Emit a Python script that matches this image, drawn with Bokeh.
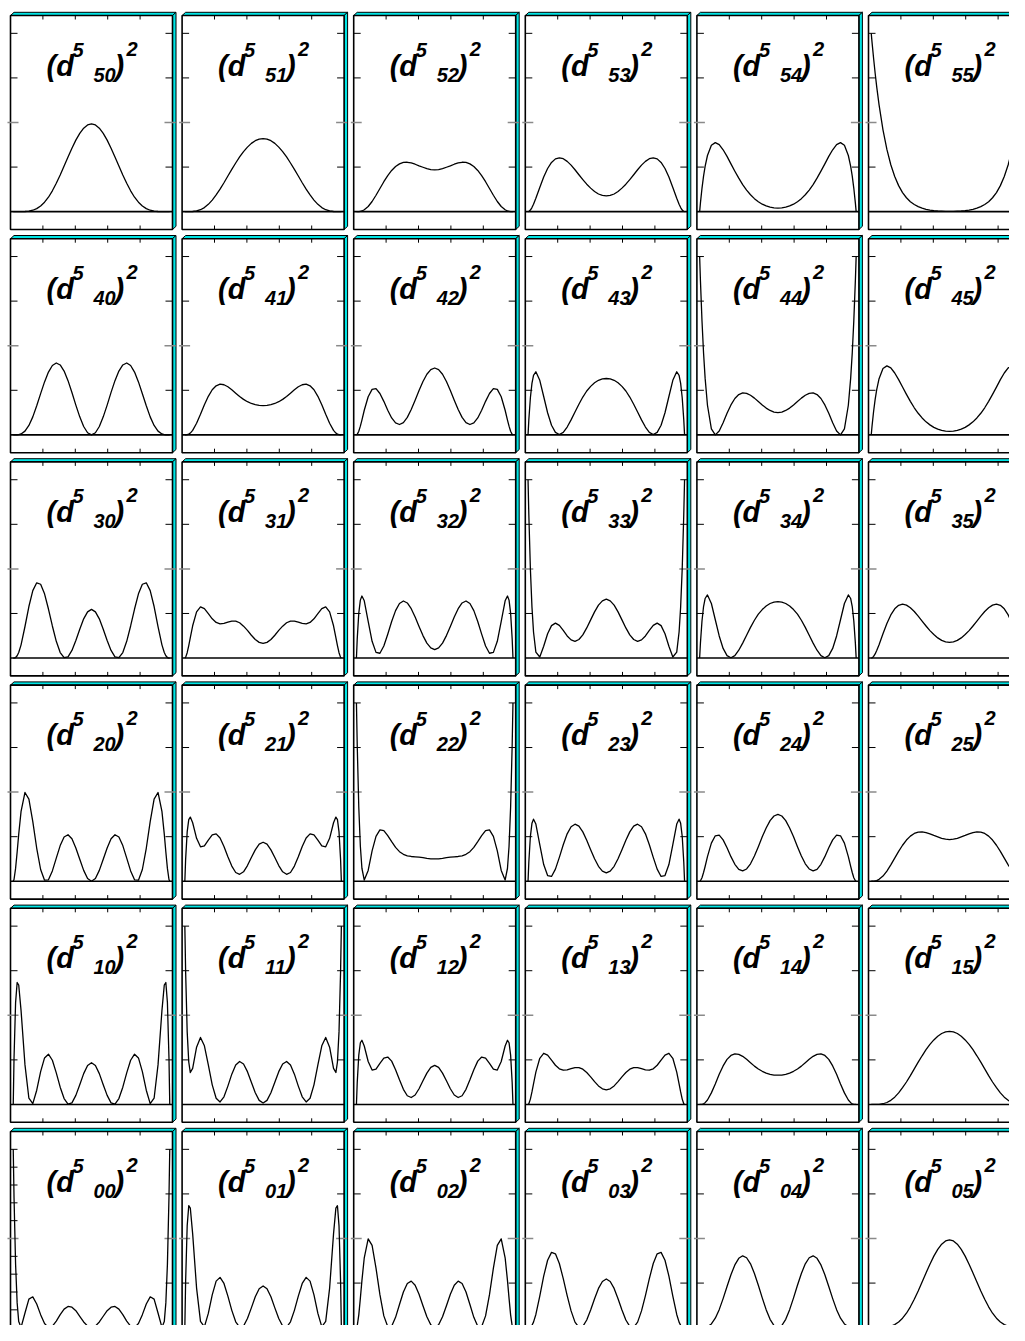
from bokeh.plotting import figure
from bokeh.layouts import gridplot
from bokeh.models import Range1d
from bokeh.embed import file_html
from bokeh.resources import INLINE
from bokeh.core.properties import value

# x = cos(beta), sample positions
X = [-1.0, -0.99, -0.97, -0.95, -0.93, -0.9, -0.85, -0.8, -0.75, -0.7, -0.65, -0.6,
     -0.55, -0.5, -0.45, -0.4, -0.35, -0.3, -0.25, -0.2, -0.15, -0.1, -0.05, 0.0,
     0.05, 0.1, 0.15, 0.2, 0.25, 0.3, 0.35, 0.4, 0.45, 0.5, 0.55, 0.6, 0.65, 0.7,
     0.75, 0.8, 0.85, 0.9, 0.93, 0.95, 0.97, 0.99, 1.0]

S50 = [0.0, 0.0, 0.0, 0.0, 0.0, 0.0, 0.001, 0.003, 0.008, 0.017, 0.032, 0.053, 0.081, 0.117, 0.159, 0.206, 0.256, 0.307, 0.356, 0.401, 0.439, 0.468, 0.486,
       0.492, 0.486, 0.468, 0.439, 0.401, 0.356, 0.307, 0.256, 0.206, 0.159, 0.117, 0.081, 0.053, 0.032, 0.017, 0.008, 0.003, 0.001, 0.0, 0.0, 0.0, 0.0, 0.0, 0.0]
S51 = [0.0, 0.0, 0.0, 0.0, 0.0, 0.001, 0.004, 0.011, 0.023, 0.041, 0.065, 0.094, 0.126, 0.162, 0.200, 0.237, 0.273, 0.307, 0.337, 0.362, 0.383, 0.398, 0.407,
       0.410, 0.407, 0.398, 0.383, 0.362, 0.337, 0.307, 0.273, 0.237, 0.200, 0.162, 0.126, 0.094, 0.065, 0.041, 0.023, 0.011, 0.004, 0.001, 0.0, 0.0, 0.0, 0.0, 0.0]
S52 = [0.0, 0.0, 0.0, 0.002, 0.004, 0.011, 0.029, 0.057, 0.092, 0.130, 0.168, 0.202, 0.231, 0.253, 0.268, 0.276, 0.277, 0.273, 0.266, 0.257, 0.249, 0.241, 0.236,
       0.234, 0.236, 0.241, 0.249, 0.257, 0.266, 0.273, 0.277, 0.276, 0.268, 0.253, 0.231, 0.202, 0.168, 0.130, 0.092, 0.057, 0.029, 0.011, 0.004, 0.002, 0.0, 0.0, 0.0]
S53 = [0.0, 0.001, 0.009, 0.023, 0.042, 0.075, 0.136, 0.194, 0.242, 0.276, 0.296, 0.302, 0.297, 0.282, 0.261, 0.235, 0.207, 0.180, 0.154, 0.132, 0.113, 0.099, 0.091,
       0.088, 0.091, 0.099, 0.113, 0.132, 0.154, 0.180, 0.207, 0.235, 0.261, 0.282, 0.297, 0.302, 0.296, 0.276, 0.242, 0.194, 0.136, 0.075, 0.042, 0.023, 0.009, 0.001, 0.0]
S54 = [0.0, 0.048, 0.131, 0.199, 0.254, 0.315, 0.372, 0.387, 0.376, 0.347, 0.310, 0.268, 0.227, 0.188, 0.152, 0.121, 0.095, 0.073, 0.056, 0.042, 0.032, 0.025, 0.021,
       0.020, 0.021, 0.025, 0.032, 0.042, 0.056, 0.073, 0.095, 0.121, 0.152, 0.188, 0.227, 0.268, 0.310, 0.347, 0.376, 0.387, 0.372, 0.315, 0.254, 0.199, 0.131, 0.048, 0.0]
S55 = [1.0, 0.951, 0.860, 0.776, 0.700, 0.599, 0.459, 0.349, 0.263, 0.197, 0.146, 0.107, 0.078, 0.056, 0.040, 0.028, 0.020, 0.013, 0.009, 0.006, 0.004, 0.003, 0.002,
       0.002, 0.002, 0.003, 0.004, 0.006, 0.009, 0.013, 0.020, 0.028, 0.040, 0.056, 0.078, 0.107, 0.146, 0.197, 0.263, 0.349, 0.459, 0.599, 0.700, 0.776, 0.860, 0.951, 1.0]
S40 = [0.0, 0.0, 0.0, 0.0, 0.001, 0.005, 0.021, 0.053, 0.101, 0.163, 0.231, 0.297, 0.352, 0.389, 0.403, 0.392, 0.358, 0.304, 0.238, 0.167, 0.101, 0.047, 0.012,
       0.0, 0.012, 0.047, 0.101, 0.167, 0.238, 0.304, 0.358, 0.392, 0.403, 0.389, 0.352, 0.297, 0.231, 0.163, 0.101, 0.053, 0.021, 0.005, 0.001, 0.0, 0.0, 0.0, 0.0]
S41 = [0.0, 0.0, 0.001, 0.004, 0.010, 0.025, 0.065, 0.115, 0.169, 0.216, 0.253, 0.275, 0.284, 0.281, 0.270, 0.253, 0.234, 0.215, 0.199, 0.186, 0.176, 0.169, 0.165,
       0.164, 0.165, 0.169, 0.176, 0.186, 0.199, 0.215, 0.234, 0.253, 0.270, 0.281, 0.284, 0.275, 0.253, 0.216, 0.169, 0.115, 0.065, 0.025, 0.010, 0.004, 0.001, 0.0, 0.0]
S42 = [0.0, 0.003, 0.020, 0.049, 0.083, 0.138, 0.214, 0.255, 0.259, 0.232, 0.188, 0.138, 0.095, 0.067, 0.058, 0.069, 0.098, 0.142, 0.194, 0.249, 0.299, 0.340, 0.366,
       0.375, 0.366, 0.340, 0.299, 0.249, 0.194, 0.142, 0.098, 0.069, 0.058, 0.067, 0.095, 0.138, 0.188, 0.232, 0.259, 0.255, 0.214, 0.138, 0.083, 0.049, 0.020, 0.003, 0.0]
S43 = [0.0, 0.083, 0.208, 0.289, 0.334, 0.354, 0.306, 0.215, 0.124, 0.054, 0.014, 0.002, 0.014, 0.044, 0.084, 0.128, 0.172, 0.212, 0.246, 0.272, 0.292, 0.306, 0.314,
       0.316, 0.314, 0.306, 0.292, 0.272, 0.246, 0.212, 0.172, 0.128, 0.084, 0.044, 0.014, 0.002, 0.014, 0.054, 0.124, 0.215, 0.306, 0.354, 0.334, 0.289, 0.208, 0.083, 0.0]
S44 = [1.0, 0.867, 0.640, 0.459, 0.318, 0.166, 0.034, 0.0, 0.022, 0.068, 0.121, 0.168, 0.204, 0.226, 0.235, 0.233, 0.222, 0.206, 0.187, 0.168, 0.150, 0.137, 0.128,
       0.125, 0.128, 0.137, 0.150, 0.168, 0.187, 0.206, 0.222, 0.233, 0.235, 0.226, 0.204, 0.168, 0.121, 0.068, 0.022, 0.0, 0.034, 0.166, 0.318, 0.459, 0.640, 0.867, 1.0]
S30 = [0.0, 0.0, 0.003, 0.013, 0.031, 0.074, 0.177, 0.289, 0.378, 0.422, 0.414, 0.360, 0.275, 0.180, 0.094, 0.031, 0.002, 0.007, 0.043, 0.099, 0.162, 0.220, 0.259,
       0.273, 0.259, 0.220, 0.162, 0.099, 0.043, 0.007, 0.002, 0.031, 0.094, 0.180, 0.275, 0.360, 0.414, 0.422, 0.378, 0.289, 0.177, 0.074, 0.031, 0.013, 0.003, 0.0, 0.0]
S31 = [0.0, 0.004, 0.030, 0.070, 0.115, 0.181, 0.259, 0.287, 0.277, 0.249, 0.220, 0.200, 0.192, 0.194, 0.201, 0.207, 0.207, 0.198, 0.179, 0.155, 0.128, 0.104, 0.088,
       0.082, 0.088, 0.104, 0.128, 0.155, 0.179, 0.198, 0.207, 0.207, 0.201, 0.194, 0.192, 0.200, 0.220, 0.249, 0.277, 0.287, 0.259, 0.181, 0.115, 0.070, 0.030, 0.004, 0.0]
S32 = [0.0, 0.107, 0.252, 0.325, 0.348, 0.321, 0.206, 0.094, 0.032, 0.027, 0.068, 0.134, 0.205, 0.266, 0.306, 0.320, 0.309, 0.277, 0.230, 0.177, 0.126, 0.084, 0.057,
       0.047, 0.057, 0.084, 0.126, 0.177, 0.230, 0.277, 0.309, 0.320, 0.306, 0.266, 0.205, 0.134, 0.068, 0.027, 0.032, 0.094, 0.206, 0.321, 0.348, 0.325, 0.252, 0.107, 0.0]
S33 = [1.0, 0.806, 0.500, 0.287, 0.146, 0.033, 0.006, 0.066, 0.136, 0.182, 0.196, 0.183, 0.155, 0.124, 0.102, 0.094, 0.104, 0.130, 0.169, 0.214, 0.259, 0.297, 0.321,
       0.330, 0.321, 0.297, 0.259, 0.214, 0.169, 0.130, 0.104, 0.094, 0.102, 0.124, 0.155, 0.183, 0.196, 0.182, 0.136, 0.066, 0.006, 0.033, 0.146, 0.287, 0.500, 0.806, 1.0]
S20 = [0.0, 0.010, 0.072, 0.164, 0.264, 0.392, 0.498, 0.461, 0.334, 0.185, 0.066, 0.006, 0.008, 0.058, 0.130, 0.200, 0.248, 0.261, 0.238, 0.187, 0.123, 0.061, 0.016,
       0.0, 0.016, 0.061, 0.123, 0.187, 0.238, 0.261, 0.248, 0.200, 0.130, 0.058, 0.008, 0.006, 0.066, 0.185, 0.334, 0.461, 0.498, 0.392, 0.264, 0.164, 0.072, 0.010, 0.0]
S21 = [0.0, 0.122, 0.277, 0.346, 0.360, 0.328, 0.241, 0.193, 0.198, 0.231, 0.260, 0.266, 0.243, 0.195, 0.138, 0.085, 0.049, 0.039, 0.053, 0.088, 0.133, 0.176, 0.208,
       0.219, 0.208, 0.176, 0.133, 0.088, 0.053, 0.039, 0.049, 0.085, 0.138, 0.195, 0.243, 0.266, 0.260, 0.231, 0.198, 0.193, 0.241, 0.328, 0.360, 0.346, 0.277, 0.122, 0.0]
S22 = [1.0, 0.764, 0.415, 0.196, 0.073, 0.007, 0.061, 0.170, 0.252, 0.288, 0.284, 0.256, 0.222, 0.190, 0.166, 0.151, 0.143, 0.139, 0.137, 0.135, 0.132, 0.128, 0.126,
       0.125, 0.126, 0.128, 0.132, 0.135, 0.137, 0.139, 0.143, 0.151, 0.166, 0.190, 0.222, 0.256, 0.284, 0.288, 0.252, 0.170, 0.061, 0.007, 0.073, 0.196, 0.415, 0.764, 1.0]
S10 = [0.0, 0.259, 0.571, 0.684, 0.670, 0.526, 0.222, 0.035, 0.005, 0.080, 0.184, 0.261, 0.282, 0.248, 0.177, 0.097, 0.033, 0.002, 0.009, 0.051, 0.111, 0.173, 0.218,
       0.234, 0.218, 0.173, 0.111, 0.051, 0.009, 0.002, 0.033, 0.097, 0.177, 0.248, 0.282, 0.261, 0.184, 0.080, 0.005, 0.035, 0.222, 0.526, 0.670, 0.684, 0.571, 0.259, 0.0]
S11 = [1.0, 0.745, 0.407, 0.238, 0.179, 0.202, 0.321, 0.376, 0.329, 0.222, 0.110, 0.035, 0.014, 0.043, 0.103, 0.170, 0.221, 0.241, 0.227, 0.184, 0.125, 0.066, 0.023,
       0.008, 0.023, 0.066, 0.125, 0.184, 0.227, 0.241, 0.221, 0.170, 0.103, 0.043, 0.014, 0.035, 0.110, 0.222, 0.329, 0.376, 0.321, 0.202, 0.179, 0.238, 0.407, 0.745, 1.0]
S00 = [1.0, 0.731, 0.355, 0.139, 0.034, 0.002, 0.082, 0.160, 0.173, 0.133, 0.073, 0.023, 0.001, 0.008, 0.037, 0.073, 0.104, 0.119, 0.115, 0.095, 0.064, 0.032, 0.009,
       0.0, 0.009, 0.032, 0.064, 0.095, 0.115, 0.119, 0.104, 0.073, 0.037, 0.008, 0.001, 0.023, 0.073, 0.133, 0.173, 0.160, 0.082, 0.002, 0.034, 0.139, 0.355, 0.731, 1.0]

ROW_INDEX = ["5", "4", "3", "2", "1", "0"]
COL_INDEX = ["0", "1", "2", "3", "4", "5"]

Y_TICKS = [0.25, 0.5, 0.75, 1.0]
Y_TICKS_FINE = [0.1, 0.2, 0.3, 0.4, 0.5, 0.6, 0.7, 0.8, 0.9, 1.0]
X_TICK_FRACTIONS = [0.2, 0.4, 0.6, 0.8]

SERIES = {"50": S50, "51": S51, "52": S52, "53": S53, "54": S54, "55": S55,
          "40": S40, "41": S41, "42": S42, "43": S43, "44": S44,
          "30": S30, "31": S31, "32": S32, "33": S33,
          "20": S20, "21": S21, "22": S22,
          "10": S10, "11": S11, "00": S00}

# geometry (pixels of the page picture)
XL, XR = -1.035, 1.035
YB, YT = -0.1, 1.1
FRAME_W, FRAME_H = 162.0, 214.0
PX_X = FRAME_W / (XR - XL)
PX_Y = FRAME_H / (YT - YB)
PITCH_X, PITCH_Y = 171.6, 223.2
FRAME_X0, FRAME_Y0 = 10.0, 15.0
TOTAL_W, TOTAL_H = 1009, 1325
# cell boundaries placed in the gaps between panels
COL_START = [0] + [int(round(FRAME_X0 + 168.0 + PITCH_X * k)) for k in range(5)]
ROW_START = [0] + [int(round(FRAME_Y0 + 217.0 + PITCH_Y * k)) for k in range(5)]
COL_W = [b - a for a, b in zip(COL_START, COL_START[1:] + [TOTAL_W])]
ROW_H = [b - a for a, b in zip(ROW_START, ROW_START[1:] + [TOTAL_H])]

CYAN = "#00e4e4"
GRAY = "#8a8a8a"
FONT = value("Liberation Sans")


def hx(px):
    return px / PX_X


def hy(px):
    return px / PX_Y


def make_panel(r, c):
    label = ROW_INDEX[r] + COL_INDEX[c]
    key = "".join(sorted(label, reverse=True))
    ys = SERIES[key]
    W, H = COL_W[c], ROW_H[r]
    fl = FRAME_X0 + PITCH_X * c - COL_START[c]
    ft = FRAME_Y0 + PITCH_Y * r - ROW_START[r]
    x0 = XL - hx(fl)
    y1 = YT + hy(ft)
    p = figure(width=W, height=H,
               x_range=Range1d(x0, x0 + hx(W)), y_range=Range1d(y1 - hy(H), y1),
               output_backend="svg", toolbar_location=None, min_border=0,
               x_axis_location=None, y_axis_location=None,
               outline_line_color=None, background_fill_color="white",
               border_fill_color="white")
    p.xgrid.visible = False
    p.ygrid.visible = False

    # 3D cyan rim (top and right faces)
    dx, dy = hx(3.5), hy(3.2)
    p.patches(xs=[[XL, XL + dx, XR + dx, XR], [XR, XR + dx, XR + dx, XR]],
              ys=[[YT, YT + dy, YT + dy, YT], [YT, YT + dy, YB + dy, YB]],
              fill_color=CYAN, line_color="black", line_width=1)
    # frame
    p.quad(left=[XL], right=[XR], bottom=[YB], top=[YT], fill_color="white",
           line_color="black", line_width=1.6)

    # ticks
    x0s, y0s, x1s, y1s = [], [], [], []
    gx0, gy0, gx1, gy1 = [], [], [], []
    left_ticks = Y_TICKS_FINE if label == "00" else Y_TICKS
    for t in left_ticks:
        if abs(t - 0.5) < 1e-9:
            gx0.append(XL - hx(3)); gx1.append(XL + hx(8)); gy0.append(t); gy1.append(t)
        else:
            x0s.append(XL); x1s.append(XL + hx(7)); y0s.append(t); y1s.append(t)
    for t in Y_TICKS:
        if abs(t - 0.5) < 1e-9:
            gx0.append(XR - hx(8)); gx1.append(XR + hx(3)); gy0.append(t); gy1.append(t)
        else:
            x0s.append(XR - hx(7)); x1s.append(XR); y0s.append(t); y1s.append(t)
    for f in X_TICK_FRACTIONS:
        xt = XL + f * (XR - XL)
        x0s += [xt, xt]; x1s += [xt, xt]
        y0s += [YB, YT]; y1s += [YB + hy(4), YT - hy(4)]
    p.segment(x0=x0s, y0=y0s, x1=x1s, y1=y1s, line_color="black", line_width=1)
    p.segment(x0=gx0, y0=gy0, x1=gx1, y1=gy1, line_color=GRAY, line_width=1.5)

    # zero line
    p.segment(x0=[XL], y0=[0.0], x1=[XR], y1=[0.0], line_color="black", line_width=1.6)

    # curve
    p.line(X, ys, line_color="black", line_width=1.3, line_join="round")

    # title  (d^5 _mn)^2
    big = dict(text_font=FONT, text_font_style="bold italic", text_font_size="29px",
               text_baseline="alphabetic", text_align="left", text_color="black")
    small = dict(big, text_font_size="20px")
    p.text(x=[XL + hx(36), XL + hx(104)], y=[YT - hy(50), YT - hy(50)],
           text=["(d", ")"], **big)
    p.text(x=[XL + hx(62), XL + hx(83), XL + hx(116)],
           y=[YT - hy(34), YT - hy(59), YT - hy(33)],
           text=["5", label, "2"], **small)
    return p


rows = [[make_panel(r, c) for c in range(6)] for r in range(6)]
grid = gridplot(rows, toolbar_location=None)

open("out.html", "w").write(file_html(grid, INLINE))
